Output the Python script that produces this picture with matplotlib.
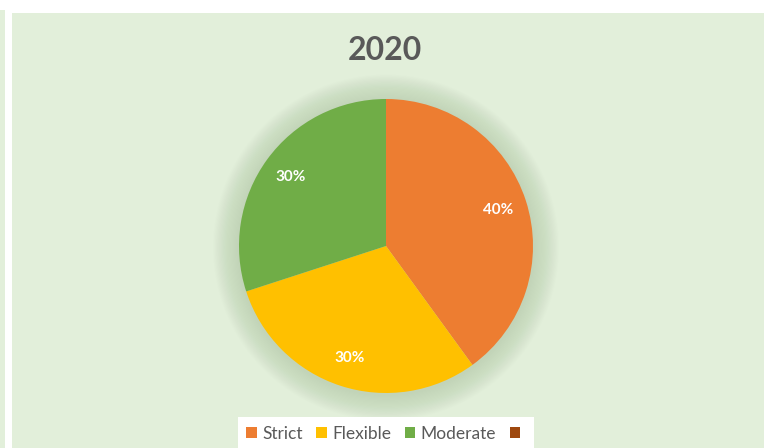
import numpy as np
import matplotlib
matplotlib.use("Agg")
import matplotlib.pyplot as plt
from matplotlib.patches import Rectangle, Circle, Patch

# ---- data ----
labels = ["Strict", "Flexible", "Moderate", ""]
shares = [40, 30, 30, 0]
colors = ["#ED7D31", "#FFC000", "#70AD47", "#9E480E"]
title = "2020"

W, H = 771, 448
plt.rcParams["font.family"] = ["Lato", "DejaVu Sans"]

fig = plt.figure(figsize=(W / 100, H / 100), dpi=100)
fig.patch.set_facecolor("white")

panel = "#E2EFDA"
# thin strip on the left edge and the main chart panel
fig.patches.append(Rectangle((0, 0), 5 / W, (H - 10) / H, transform=fig.transFigure,
                             facecolor=panel, edgecolor="none", zorder=-5))
fig.patches.append(Rectangle((12 / W, 0), (764 - 12) / W, (H - 13) / H, transform=fig.transFigure,
                             facecolor=panel, edgecolor="none", zorder=-5))

# pie axes: centre (386, 246) px, radius 147 px
cx, cy, r = 386, 246, 147
ax = fig.add_axes([(cx - r) / W, (H - cy - r) / H, 2 * r / W, 2 * r / H])
ax.set_zorder(2)
ax.patch.set_visible(False)
ax.axis("off")

# soft shadow glow behind the pie
n_glow = 22
for i in range(n_glow):
    rad = 1.0 + 0.008 * (n_glow - i)
    ax.add_patch(Circle((0.0, -0.01), rad, facecolor="#9bb38f", edgecolor="none",
                        alpha=0.018, zorder=0, clip_on=False))

vals = [v for v in shares if v > 0]
cols = [c for c, v in zip(colors, shares) if v > 0]
wedges, texts, autotexts = ax.pie(vals, colors=cols, startangle=90, counterclock=False,
                                  radius=1.0, autopct="%d%%", pctdistance=0.8,
                                  wedgeprops=dict(linewidth=0),
                                  textprops=dict(color="white", fontsize=11, fontweight="bold"))
for w in wedges:
    w.set_zorder(2)
for t in autotexts:
    t.set_zorder(3)
ax.set_xlim(-1, 1)
ax.set_ylim(-1, 1)
ax.set_aspect("equal")

fig.text(385 / W, 1 - 51 / H, title, ha="center", va="center", fontsize=23,
         fontweight="bold", color="#595959")

# legend in a white box at the bottom
handles = [Patch(facecolor=c, edgecolor="none", label=l) for c, l in zip(colors, labels)]
leg = fig.legend(handles=handles, loc="center", bbox_to_anchor=(386 / W, 1 - 434 / H),
                 ncol=4, frameon=True, fontsize=12.5, handlelength=0.6, handleheight=0.6,
                 handletextpad=0.3, columnspacing=0.8, borderpad=0.5, fancybox=False)
leg.set_zorder(3)
leg.get_frame().set_facecolor("white")
leg.get_frame().set_edgecolor("none")
leg.get_frame().set_alpha(1)
for t in leg.get_texts():
    t.set_color("#595959")

fig.savefig("out.png", dpi=100, facecolor=fig.get_facecolor())
